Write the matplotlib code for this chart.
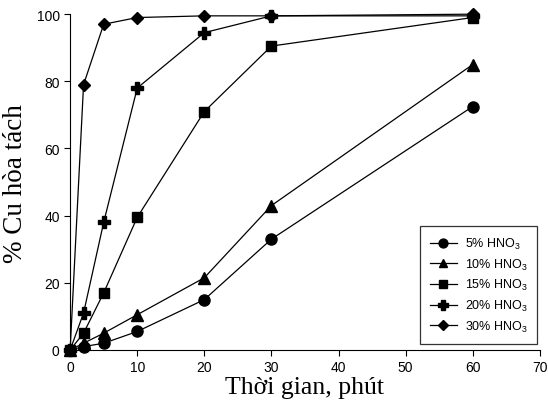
import numpy as np
import matplotlib.pyplot as plt

# thoi gian (phut)
time = [0, 2, 5, 10, 20, 30, 60]

cu_5 = [0, 1, 2, 5.5, 15, 33, 72.5]
cu_10 = [0, 2, 5, 10.5, 21.5, 43, 85]
cu_15 = [0, 5, 17, 39.5, 71, 90.5, 99]
cu_20 = [0, 11, 38, 78, 94.5, 99.5, 99.5]
cu_30 = [0, 79, 97, 99, 99.5, 99.5, 100]

labels = ["5% HNO$_3$", "10% HNO$_3$", "15% HNO$_3$", "20% HNO$_3$", "30% HNO$_3$"]
markers = ["o", "^", "s", "P", "D"]
sizes = [8, 8, 7, 9, 6]

plt.rcParams['font.family'] = ['Liberation Sans', 'DejaVu Sans']
plt.rcParams['mathtext.fontset'] = 'custom'
plt.rcParams['mathtext.rm'] = 'Liberation Sans'

fig = plt.figure(figsize=(5.48, 4.10), dpi=100)
ax = fig.add_axes([0.128, 0.144, 0.857, 0.819])

for ys, lab, mk, ms in zip([cu_5, cu_10, cu_15, cu_20, cu_30], labels, markers, sizes):
    ax.plot(time, ys, color="black", lw=0.9, marker=mk, markersize=ms,
            markerfacecolor="black", markeredgecolor="black", label=lab, clip_on=False)

ax.set_xlim(0, 70)
ax.set_ylim(0, 100)
ax.set_xticks(range(0, 71, 10))
ax.set_yticks(range(0, 101, 20))
ax.tick_params(direction="out", length=4, width=0.8, labelsize=10)
ax.spines["top"].set_visible(False)
ax.spines["right"].set_visible(False)

ax.set_xlabel("Thời gian, phút", family=["Liberation Serif"], fontsize=18.5, labelpad=1)
ax.set_ylabel("% Cu hòa tách", family=["Liberation Serif"], fontsize=19.5, labelpad=6)

leg = ax.legend(loc="lower right", bbox_to_anchor=(0.995, 0.018), fontsize=9,
                frameon=True, fancybox=False, edgecolor="black", handlelength=2.2,
                labelspacing=0.45, borderpad=0.8, markerscale=0.8, handletextpad=0.6,
                borderaxespad=0)
leg.get_frame().set_linewidth(0.9)

fig.savefig("out.png", dpi=100)
